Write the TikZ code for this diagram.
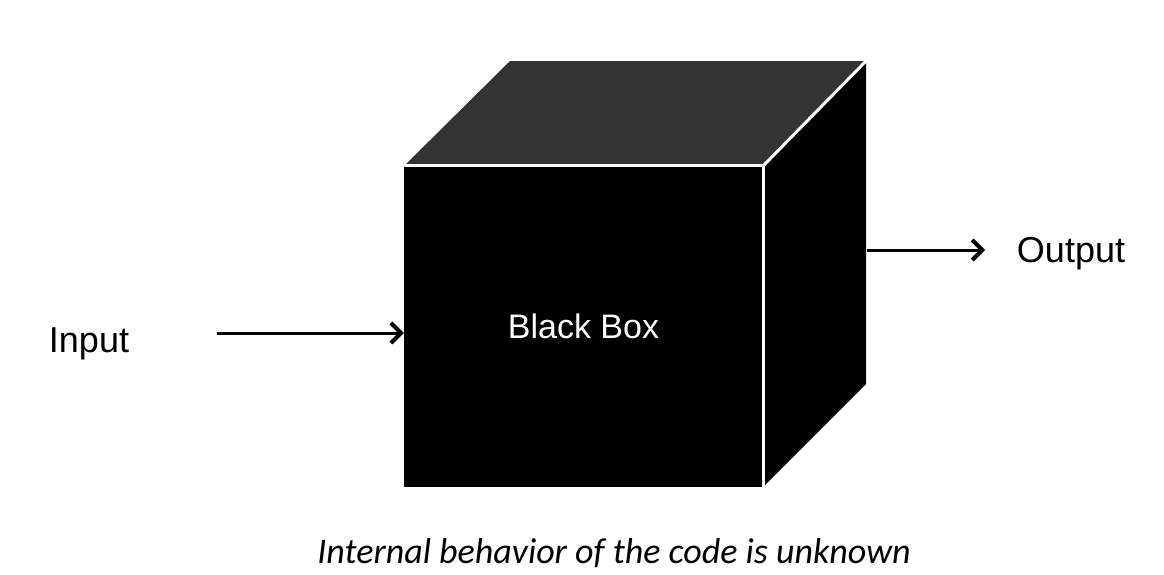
\documentclass[tikz,border=0pt]{standalone}
\usepackage{fontspec}
\setmainfont{Liberation Sans}
\newfontfamily\notefont{Carlito}
\usetikzlibrary{arrows.meta,positioning}

\tikzset{
    word/.style={font=\fontsize{36}{40}\selectfont, inner sep=0pt, anchor=base},
    face/.style={draw=white, line width=3pt, line join=miter},
    flow/.style={line width=3pt, -{Straight Barb[length=10pt,width=20pt,line width=4pt]}}
}

\begin{document}
\begin{tikzpicture}[x=1pt, y=-1pt]
                        \useasboundingbox (0, 0) rectangle (1164, 574);
                        % cube
                        \fill[black!80] (404, 166) -- (510, 61) -- (866, 61) -- (763, 166) -- cycle;
                        \fill[black] (763, 166) -- (866, 61) -- (866, 384) -- (763, 487) -- cycle;
                        \node (box) [fill=black, minimum width=359pt, minimum height=321pt, inner sep=0pt,
                            text=white, font=\fontsize{34}{38}\selectfont] at (583.5, 326.5) {Black Box};
                        \draw[face] (box.north west) -- (box.north east) -- (box.south east);
                        \draw[face] (box.north east) -- (866, 61);
                        \node (in) [word] at (89, 352) {Input};
                        \node (out) [word] at (1071, 262) {Output};
                        \node (note) [word, font=\notefont\itshape\fontsize{36}{40}\selectfont] at (614, 563)
                            {Internal behavior of the code is unknown};
                        \coordinate (a) at (217, 333);
                        \coordinate (b) at (867, 250);
                        \coordinate (c) at (985, 250);
                        \draw
                        (a) edge[flow] (a -| box.west)
                        (b) edge[flow] (c);
                    \end{tikzpicture}
\end{document}
